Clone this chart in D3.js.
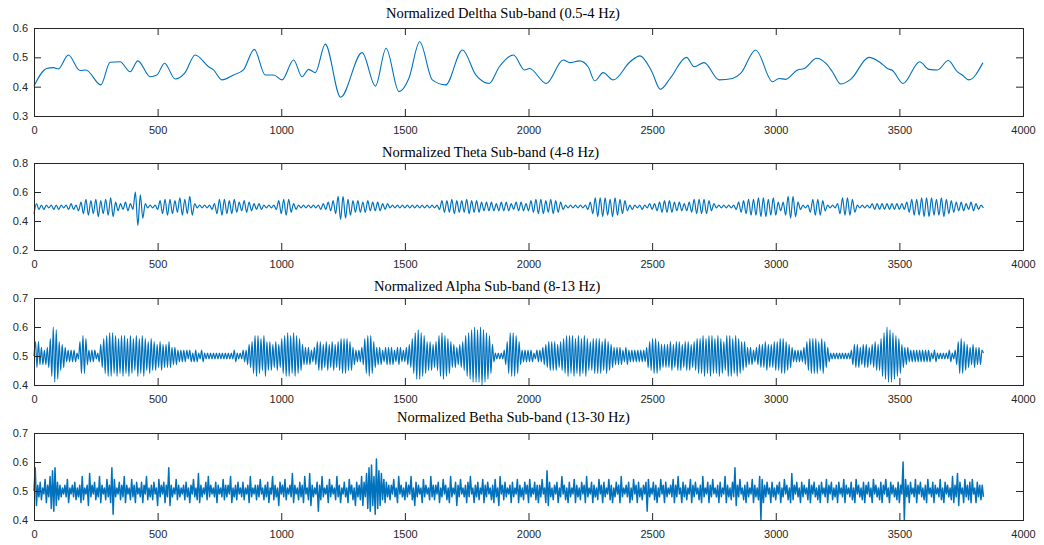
<!DOCTYPE html>
<html>
<head>
<meta charset="utf-8">
<script src="https://cdn.jsdelivr.net/npm/d3@7"></script>
<style>
  body { margin: 0; background: #fff; }
  .tick text { font-family: "Liberation Sans", Arial, sans-serif; font-size: 11px; fill: #262626; }
  .tick line { stroke: #262626; }
  .title { font-family: "Liberation Serif", "Times New Roman", serif; font-size: 14.5px; fill: #000; }
</style>
</head>
<body>
<script>
const WIDTH = 1044;
const HEIGHT = 545;

var titles = [
  'Normalized Deltha Sub-band (0.5-4 Hz)',
  'Normalized Theta Sub-band (4-8 Hz)',
  'Normalized Alpha Sub-band (8-13 Hz)',
  'Normalized Betha Sub-band (13-30 Hz)'
];
var xTicks = [0, 500, 1000, 1500, 2000, 2500, 3000, 3500, 4000];
var yDomains = [[0.3, 0.6], [0.2, 0.8], [0.4, 0.7], [0.4, 0.7]];
var yTicks = [[0.3, 0.4, 0.5, 0.6], [0.2, 0.4, 0.6, 0.8], [0.4, 0.5, 0.6, 0.7], [0.4, 0.5, 0.6, 0.7]];

// delta: [sample, value] at turning points
var delta = [[0,.402],[51,.462],[78,.465],[98,.46],[139,.508],[186,.455],[210,.457],[270,.406],[308,.483],[348,.485],
  [389,.451],[420,.488],[470,.434],[497,.44],[528,.48],[571,.426],[611,.448],[652,.508],[706,.468],[726,.457],
  [760,.423],[807,.44],[847,.457],[891,.527],[935,.44],[969,.44],[1003,.423],[1050,.491],[1084,.434],[1111,.459],
  [1138,.448],[1178,.545],[1240,.364],[1327,.516],[1381,.402],[1424,.531],[1476,.383],[1516,.428],[1560,.553],[1611,.423],
  [1665,.406],[1733,.525],[1787,.44],[1841,.411],[1882,.468],[1939,.508],[1984,.457],[2004,.462],[2072,.411],[2140,.491],
  [2167,.482],[2207,.488],[2241,.468],[2268,.42],[2302,.448],[2343,.423],[2411,.485],[2451,.505],[2499,.451],[2533,.391],
  [2573,.428],[2639,.5],[2670,.468],[2710,.482],[2771,.423],[2825,.428],[2858,.445],[2919,.525],[2987,.417],[3013,.428],
  [3040,.425],[3088,.457],[3115,.462],[3166,.497],[3202,.48],[3229,.451],[3263,.409],[3303,.425],[3377,.5],[3418,.485],
  [3452,.462],[3472,.455],[3515,.411],[3582,.485],[3620,.459],[3654,.457],[3698,.489],[3734,.451],[3754,.44],[3781,.423],
  [3838,.482]];

// theta: successive troughs/peaks, one every 10 samples
var thetaStep = 10;
var theta = [
  .45,.52,.48,.51,.48,.51,.49,.51,.48,.51, .48,.51,.49,.51,.48,.52,.48,.51,.47,.53,
  .45,.55,.44,.54,.45,.55,.43,.54,.45,.55, .44,.56,.43,.53,.47,.52,.48,.53,.47,.52,
  .48,.60,.37,.58,.42,.52,.49,.51,.49,.51, .48,.54,.45,.55,.44,.55,.45,.54,.46,.56,
  .44,.55,.45,.57,.44,.52,.49,.51,.49,.51, .49,.51,.48,.52,.45,.55,.44,.55,.45,.54,
  .45,.55,.46,.53,.47,.54,.46,.53,.47,.52, .48,.52,.48,.51,.49,.51,.49,.51,.48,.54,
  .45,.55,.44,.55,.46,.52,.48,.51,.49,.51, .49,.51,.49,.51,.49,.51,.48,.52,.48,.53,
  .47,.54,.45,.57,.41,.57,.42,.55,.44,.54, .46,.54,.46,.53,.46,.54,.47,.53,.47,.53,
  .47,.52,.48,.52,.49,.51,.49,.51,.49,.51, .49,.51,.49,.51,.49,.51,.49,.51,.49,.51,
  .49,.51,.49,.51,.48,.54,.46,.54,.46,.55, .45,.54,.46,.54,.46,.55,.45,.54,.46,.54,
  .46,.53,.47,.53,.47,.53,.47,.52,.47,.53, .47,.53,.47,.52,.48,.53,.47,.53,.47,.52,
  .47,.54,.46,.55,.45,.55,.45,.54,.46,.55, .45,.54,.46,.53,.48,.51,.49,.51,.49,.51,
  .49,.51,.49,.51,.48,.53,.45,.56,.43,.56, .43,.56,.44,.55,.43,.56,.44,.55,.45,.54,
  .47,.51,.48,.51,.49,.51,.48,.51,.49,.52, .48,.52,.47,.53,.46,.54,.46,.54,.46,.53,
  .47,.53,.47,.52,.47,.53,.46,.55,.45,.55, .45,.55,.45,.54,.47,.52,.49,.51,.49,.51,
  .49,.51,.49,.51,.48,.53,.46,.54,.45,.55, .44,.55,.44,.56,.43,.56,.43,.55,.44,.56,
  .44,.53,.47,.53,.44,.57,.42,.57,.43,.53, .48,.51,.49,.51,.46,.55,.44,.55,.44,.54,
  .47,.51,.49,.51,.49,.52,.45,.56,.44,.56, .44,.55,.46,.51,.49,.51,.49,.51,.49,.52,
  .48,.52,.48,.52,.48,.52,.48,.52,.48,.52, .48,.52,.48,.53,.46,.55,.44,.55,.44,.56,
  .43,.56,.43,.56,.44,.55,.44,.56,.43,.55, .45,.54,.46,.53,.47,.53,.47,.52,.48,.53,
  .47,.52,.48,.51,.49];

// alpha: successive troughs/peaks, one every 6 samples
var alphaStep = 6;
var alpha = [
  .50,.55,.46,.55,.47,.53,.47,.52,.47,.53, .46,.56,.43,.60,.41,.59,.42,.55,.45,.54,
  .46,.53,.48,.52,.48,.52,.48,.52,.48,.51, .49,.55,.44,.57,.44,.56,.47,.52,.48,.52,
  .48,.52,.49,.51,.48,.54,.46,.56,.44,.57, .43,.58,.43,.58,.44,.57,.43,.56,.44,.57,
  .43,.57,.44,.56,.43,.57,.44,.56,.45,.57, .43,.56,.44,.57,.43,.56,.45,.55,.44,.56,
  .45,.55,.45,.54,.46,.55,.45,.54,.46,.54, .46,.55,.46,.53,.47,.53,.47,.52,.48,.52,
  .48,.52,.48,.52,.49,.52,.48,.51,.48,.52, .48,.51,.49,.52,.48,.51,.49,.51,.49,.51,
  .49,.51,.49,.51,.49,.51,.49,.51,.49,.51, .49,.51,.49,.51,.49,.52,.48,.51,.49,.51,
  .49,.52,.48,.52,.47,.54,.46,.55,.44,.57, .43,.57,.44,.56,.45,.57,.43,.55,.45,.55,
  .45,.54,.46,.55,.45,.54,.46,.56,.44,.57, .43,.58,.43,.57,.44,.58,.43,.57,.44,.56,
  .45,.54,.47,.53,.47,.53,.47,.52,.48,.53, .47,.55,.45,.55,.45,.54,.46,.55,.45,.54,
  .46,.55,.45,.54,.46,.55,.45,.56,.44,.56, .44,.56,.45,.55,.45,.53,.47,.52,.48,.52,
  .48,.53,.47,.56,.44,.57,.43,.57,.44,.55, .46,.53,.47,.53,.47,.52,.48,.53,.47,.53,
  .47,.53,.47,.52,.48,.53,.47,.53,.48,.52, .48,.53,.47,.54,.46,.56,.44,.58,.42,.59,
  .42,.58,.43,.57,.44,.55,.45,.55,.45,.54, .46,.55,.45,.57,.43,.58,.42,.57,.43,.56,
  .44,.55,.46,.54,.46,.53,.47,.54,.46,.55, .45,.57,.43,.58,.42,.59,.41,.60,.41,.59,
  .41,.60,.40,.59,.41,.58,.42,.57,.44,.54, .48,.51,.49,.51,.49,.51,.49,.52,.47,.55,
  .44,.58,.43,.58,.43,.57,.44,.55,.47,.52, .48,.52,.48,.52,.48,.52,.48,.51,.49,.52,
  .48,.52,.48,.53,.47,.54,.46,.55,.45,.55, .45,.55,.45,.54,.46,.55,.45,.56,.44,.57,
  .43,.57,.44,.57,.43,.56,.44,.57,.43,.56, .44,.57,.43,.56,.45,.55,.45,.56,.44,.56,
  .44,.56,.44,.55,.45,.56,.44,.55,.45,.54, .46,.53,.47,.53,.47,.53,.47,.52,.48,.53,
  .47,.52,.48,.52,.48,.52,.48,.52,.48,.52, .48,.52,.48,.53,.46,.55,.45,.56,.44,.56,
  .44,.55,.45,.54,.46,.54,.46,.54,.46,.55, .45,.54,.46,.55,.45,.55,.45,.54,.46,.55,
  .45,.55,.45,.54,.46,.55,.45,.56,.44,.56, .44,.57,.43,.56,.44,.57,.43,.57,.44,.56,
  .44,.57,.43,.56,.44,.55,.45,.57,.43,.57, .43,.56,.44,.57,.43,.56,.44,.55,.45,.55,
  .46,.53,.47,.53,.47,.52,.48,.53,.47,.54, .46,.54,.46,.55,.45,.54,.46,.54,.46,.55,
  .45,.55,.45,.56,.44,.56,.44,.55,.45,.54, .46,.53,.48,.52,.48,.52,.48,.52,.48,.53,
  .47,.55,.45,.56,.44,.56,.44,.56,.44,.55, .45,.56,.44,.55,.46,.53,.48,.51,.49,.51,
  .49,.51,.49,.51,.49,.51,.49,.51,.49,.51, .49,.52,.47,.54,.46,.54,.46,.53,.47,.54,
  .46,.54,.46,.53,.47,.54,.46,.55,.45,.54, .45,.56,.43,.58,.42,.60,.41,.59,.41,.58,
  .42,.57,.43,.56,.44,.54,.46,.53,.47,.53, .48,.52,.48,.52,.48,.52,.48,.52,.48,.52,
  .48,.52,.48,.52,.48,.51,.49,.52,.48,.51, .49,.51,.49,.51,.49,.51,.49,.52,.48,.51,
  .49,.52,.47,.55,.44,.56,.44,.55,.45,.54, .46,.53,.47,.54,.46,.53,.47,.53,.47,.52,
  .51];

// betha: successive troughs/peaks, one every 5 samples
var bethaStep = 5;
var betha = [
  .50,.58,.45,.52,.48,.53,.47,.51,.49,.54,.46,.52, .48,.55,.44,.57,.43,.58,.45,.53,.47,.52,.48,.51,
  .49,.52,.48,.54,.46,.51,.49,.52,.48,.53,.47,.51, .48,.52,.46,.55,.47,.51,.49,.52,.45,.56,.48,.52,
  .49,.53,.47,.51,.48,.55,.46,.52,.49,.51,.47,.54, .48,.52,.46,.58,.42,.54,.48,.51,.49,.53,.47,.52,
  .48,.55,.46,.52,.49,.51,.47,.54,.48,.52,.46,.53, .49,.51,.48,.53,.46,.52,.49,.55,.47,.51,.48,.52,
  .47,.53,.49,.51,.45,.54,.48,.52,.49,.53,.46,.52, .48,.58,.45,.52,.48,.51,.49,.54,.47,.52,.48,.51,
  .49,.52,.47,.53,.48,.51,.46,.52,.49,.54,.48,.51, .47,.56,.46,.52,.48,.51,.49,.53,.47,.55,.48,.52,
  .49,.51,.48,.53,.46,.52,.49,.51,.48,.54,.47,.52, .48,.52,.49,.55,.46,.51,.48,.52,.47,.53,.49,.51,
  .48,.53,.47,.51,.49,.52,.46,.55,.48,.51,.49,.52, .47,.52,.48,.54,.49,.51,.47,.52,.48,.53,.46,.51,
  .49,.55,.47,.52,.48,.51,.45,.53,.49,.52,.48,.54, .47,.51,.49,.52,.48,.56,.46,.52,.49,.51,.47,.53,
  .48,.52,.46,.55,.49,.51,.47,.56,.45,.52,.48,.51, .49,.53,.43,.52,.47,.55,.48,.51,.49,.52,.46,.54,
  .48,.52,.49,.51,.47,.55,.48,.52,.46,.51,.49,.53, .48,.51,.46,.54,.49,.52,.47,.51,.45,.53,.48,.52,
  .47,.55,.45,.53,.48,.56,.44,.58,.43,.59,.45,.55, .42,.61,.44,.57,.45,.56,.47,.54,.46,.53,.48,.52,
  .47,.52,.49,.54,.48,.51,.46,.55,.49,.52,.48,.51, .47,.53,.48,.52,.49,.55,.47,.51,.45,.53,.48,.52,
  .49,.51,.46,.54,.48,.52,.49,.51,.47,.55,.48,.52, .47,.52,.49,.53,.46,.51,.48,.54,.49,.52,.47,.51,
  .46,.55,.48,.51,.49,.53,.45,.52,.48,.54,.49,.51, .48,.52,.46,.53,.48,.55,.49,.51,.46,.52,.48,.53,
  .47,.51,.49,.54,.46,.52,.48,.53,.49,.51,.47,.52, .46,.54,.48,.51,.45,.55,.49,.52,.47,.53,.48,.51,
  .49,.52,.46,.53,.48,.51,.49,.54,.46,.52,.48,.51, .47,.53,.49,.52,.46,.54,.48,.51,.49,.53,.47,.52,
  .46,.52,.48,.54,.49,.51,.46,.57,.45,.53,.48,.51, .47,.52,.49,.53,.46,.51,.48,.55,.49,.52,.47,.51,
  .46,.53,.48,.51,.49,.54,.46,.52,.48,.51,.47,.53, .49,.52,.46,.55,.48,.51,.49,.53,.46,.52,.48,.51,
  .47,.54,.49,.52,.46,.53,.48,.51,.49,.54,.47,.52, .46,.51,.48,.53,.49,.52,.46,.55,.48,.51,.49,.52,
  .48,.53,.46,.51,.47,.54,.49,.52,.46,.53,.48,.51, .47,.52,.49,.53,.43,.54,.48,.51,.49,.53,.47,.52,
  .46,.51,.48,.54,.49,.52,.46,.53,.48,.51,.49,.52, .48,.54,.46,.52,.48,.55,.49,.51,.46,.53,.48,.52,
  .47,.51,.49,.54,.46,.52,.48,.53,.49,.51,.47,.52, .46,.55,.48,.51,.49,.53,.46,.52,.48,.54,.49,.51,
  .48,.52,.46,.53,.48,.51,.49,.55,.46,.52,.48,.51, .47,.53,.48,.58,.45,.52,.48,.54,.49,.51,.47,.52,
  .46,.53,.48,.51,.49,.54,.46,.52,.48,.51,.47,.55, .40,.54,.46,.52,.48,.53,.49,.51,.46,.53,.48,.51,
  .47,.52,.49,.53,.46,.51,.48,.54,.49,.52,.47,.51, .46,.56,.47,.52,.49,.53,.48,.51,.46,.53,.48,.52,
  .49,.51,.47,.54,.46,.52,.49,.53,.48,.51,.47,.52, .46,.53,.49,.51,.48,.54,.46,.52,.49,.53,.47,.51,
  .48,.52,.46,.53,.49,.51,.48,.54,.46,.52,.49,.51, .48,.53,.47,.51,.46,.54,.49,.52,.48,.51,.47,.53,
  .46,.52,.49,.53,.48,.51,.46,.54,.49,.52,.48,.51, .47,.53,.46,.52,.49,.54,.48,.51,.46,.53,.49,.52,
  .48,.51,.47,.53,.46,.52,.49,.60,.40,.54,.48,.52, .46,.53,.49,.51,.48,.54,.46,.52,.49,.53,.48,.51,
  .47,.52,.46,.54,.49,.51,.48,.53,.46,.52,.49,.51, .48,.54,.47,.51,.46,.53,.49,.52,.48,.51,.47,.55,
  .46,.52,.48,.56,.45,.53,.49,.51,.46,.54,.48,.52, .47,.53,.46,.54,.49,.51,.46,.53,.48,.52,.47,.52,
  .48];

// layout
var plotLeft = 34, plotRight = 1023;
var panelTop = [28, 163, 298, 433];
var panelHeight = [88, 87, 87, 87];
var titleX = [386, 382, 374, 397];
var titleBaseline = [18, 157, 291, 422];
var lineCurve = [d3.curveMonotoneX, d3.curveMonotoneX, d3.curveMonotoneX, d3.curveLinear];
var lineWidth = [1.1, 1.2, 1.2, 1.5];

var toPoints = function(values, step) {
  return values.map(function(v, i) { return [i * step, v]; });
};

var series = [
  delta,
  toPoints(theta, thetaStep),
  toPoints(alpha, alphaStep),
  toPoints(betha, bethaStep)
];

var svg = d3.select('body').append('svg')
  .attr('width', WIDTH)
  .attr('height', HEIGHT);

var xScale = d3.scaleLinear()
  .domain([0, 4000])
  .range([plotLeft, plotRight]);

titles.forEach(function(title, k) {
  var top = panelTop[k], bottom = top + panelHeight[k];
  var yScale = d3.scaleLinear()
    .domain(yDomains[k])
    .range([bottom, top]);

  var g = svg.append('g');

  var line = d3.line()
    .x(function(d) { return xScale(d[0]); })
    .y(function(d) { return yScale(d[1]); })
    .curve(lineCurve[k]);

  g.append('path')
    .datum(series[k])
    .attr('d', line)
    .attr('fill', 'none')
    .attr('stroke', '#0072BD')
    .attr('stroke-linejoin', 'round')
    .attr('stroke-width', lineWidth[k]);

  g.append('g')
    .attr('transform', 'translate(0,' + bottom + ')')
    .call(d3.axisBottom(xScale).tickValues(xTicks).tickSizeInner(-7).tickSizeOuter(0).tickPadding(10)
      .tickFormat(d3.format('d')))
    .call(function(a) { a.select('.domain').remove(); });

  g.append('g')
    .attr('transform', 'translate(0,' + top + ')')
    .call(d3.axisTop(xScale).tickValues(xTicks).tickSizeInner(-7).tickSizeOuter(0).tickFormat(''))
    .call(function(a) { a.select('.domain').remove(); });

  g.append('g')
    .attr('transform', 'translate(' + plotLeft + ',0)')
    .call(d3.axisLeft(yScale).tickValues(yTicks[k]).tickSizeInner(-7).tickSizeOuter(0).tickPadding(6)
      .tickFormat(d3.format('.1f')))
    .call(function(a) { a.select('.domain').remove(); });

  g.append('g')
    .attr('transform', 'translate(' + plotRight + ',0)')
    .call(d3.axisRight(yScale).tickValues(yTicks[k]).tickSizeInner(-7).tickSizeOuter(0).tickFormat(''))
    .call(function(a) { a.select('.domain').remove(); });

  g.append('rect')
    .attr('x', plotLeft + 0.5)
    .attr('y', top + 0.5)
    .attr('width', plotRight - plotLeft)
    .attr('height', panelHeight[k])
    .attr('fill', 'none')
    .attr('stroke', '#262626')
    .attr('stroke-width', 1);

  g.append('text')
    .attr('class', 'title')
    .attr('x', titleX[k])
    .attr('y', titleBaseline[k])
    .text(title);
});
</script>
</body>
</html>
